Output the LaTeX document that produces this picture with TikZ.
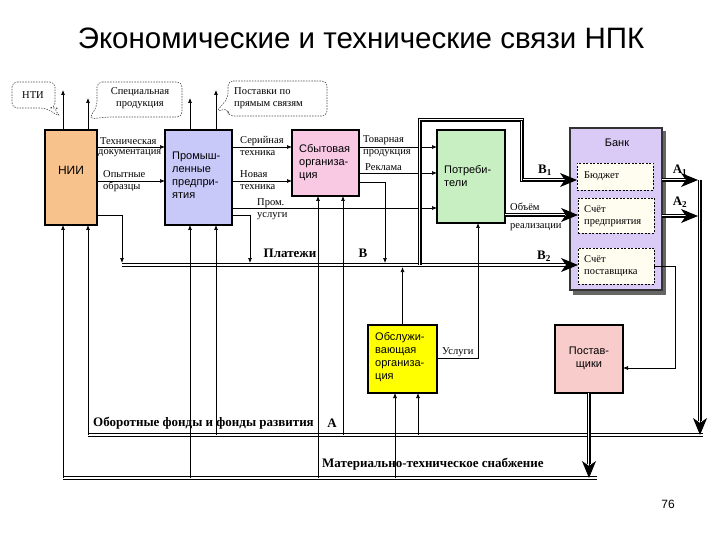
\documentclass[tikz,border=0pt]{standalone}
\usepackage{fontspec}
\setmainfont{Liberation Serif}
\newfontfamily\arial{Liberation Sans}
\usetikzlibrary{arrows.meta,calc}
\definecolor{niiC}{HTML}{F8C28C}
\definecolor{promC}{HTML}{C9C9F9}
\definecolor{sbytC}{HTML}{F9C9E4}
\definecolor{potrC}{HTML}{C8EFC2}
\definecolor{bankC}{HTML}{DACBF6}
\definecolor{servC}{HTML}{FFFF00}
\definecolor{suppC}{HTML}{F9CCCC}
\definecolor{innerC}{HTML}{FFFCF0}
\begin{document}
\begin{tikzpicture}[x=1pt,y=-1pt,
  box/.style={draw,line width=1.1pt,anchor=north west,inner sep=0pt,outer sep=0pt},
  boxtxt/.style={font=\arial\fontsize{11}{13}\selectfont,align=left,anchor=north west,inner sep=0pt},
  lab/.style={font=\fontsize{10.5}{12}\selectfont,inner sep=0pt},
  labw/.style={font=\fontsize{10.5}{12}\selectfont,inner sep=0pt,anchor=west},
  blab/.style={font=\bfseries\fontsize{13}{14}\selectfont,inner sep=0pt},
  arr/.style={line width=0.7pt,-{Latex[length=5pt,width=4pt]}},
  dbl/.style={double,double distance=1.6pt,line width=1.4pt},
  triple/.style={line width=4.2pt,postaction={draw=white,line width=2.4pt},postaction={draw=black,line width=0.9pt}},
  bigtip/.style={line width=1pt,-{Stealth[length=17pt,width=14pt,inset=5pt]}},
  callout/.style={draw=black!70,dash pattern=on 1.5pt off 1.2pt,line width=0.6pt,rounded corners=5pt,fill=white},
  dinner/.style={draw,dash pattern=on 2pt off 1.5pt,line width=0.8pt,fill=innerC,anchor=north west,inner sep=0pt,outer sep=0pt}
]
\useasboundingbox (0,0) rectangle (720,540);
\fill[white] (0,0) rectangle (720,540);

% title
\node (title) at (361,38) {\arial\fontsize{29.5}{34}\selectfont Экономические и технические связи НПК};
\node (pnum) at (668,504) {\arial\fontsize{12}{14}\selectfont 76};

% row / column coordinates
\coordinate (r1) at (0,147);
\coordinate (r2) at (0,181);
\coordinate (rP) at (0,208);
\coordinate (rR) at (0,173);
\coordinate (rS) at (0,182);
\coordinate (r215) at (0,215);
\coordinate (rB1) at (0,180);
\coordinate (rA2) at (0,216);
\coordinate (rTop) at (0,120);
\coordinate (rU) at (0,358);
\coordinate (rQ) at (0,368);
\coordinate (busP) at (0,265);
\coordinate (busPt) at (0,263);
\coordinate (busPb) at (0,267);
\coordinate (busO) at (0,435);
\coordinate (busM) at (0,478);
\coordinate (t90) at (0,90);
\coordinate (t98) at (0,98);
\coordinate (c63) at (63,0);
\coordinate (c88) at (88,0);
\coordinate (c122) at (122,0);
\coordinate (c190) at (190,0);
\coordinate (c216) at (216,0);
\coordinate (c250) at (250,0);
\coordinate (c318) at (318,0);
\coordinate (c343) at (343,0);
\coordinate (c385) at (385,0);
\coordinate (c395) at (395,0);
\coordinate (c418) at (418,0);
\coordinate (c420) at (420,0);
\coordinate (c478) at (478,0);
\coordinate (c522) at (522,0);
\coordinate (c675) at (675,0);
\coordinate (cA) at (700,0);

% callouts
\draw[callout] (12,82) -- (55,82) -- (55,108) -- (53,108) -- (61,117) -- (45,108) -- (12,108) -- cycle;
\node[lab] (nti) at (33,95) {НТИ};
\draw[callout] (97,82) -- (182,82) -- (182,117) -- (108,117) -- (89,119) -- (97,106) -- cycle;
\node[lab,align=center] (spec) at (140,98) {Специальная\\продукция};
\draw[callout] (228,81) -- (327,81) -- (327,116) -- (228,116) -- (228,108) -- (216,112) -- (228,98) -- cycle;
\node[lab,align=left,anchor=north west] (post) at (234,87) {Поставки по\\прямым связям};

% boxes
\node[box,fill=niiC,minimum width=52pt,minimum height=95pt] (nii) at (45,130) {};
\node[box,fill=promC,minimum width=67pt,minimum height=95pt] (prom) at (165,130) {};
\node[box,fill=sbytC,minimum width=67pt,minimum height=66pt] (sbyt) at (292,130) {};
\node[box,fill=potrC,minimum width=68pt,minimum height=93pt] (potr) at (437,130) {};
\fill[black!60] (573,131) rectangle (666,295);
\node[box,fill=bankC,draw=black!80,line width=1.6pt,minimum width=92pt,minimum height=162pt] (bank) at (570,128) {};
\node[dinner,minimum width=76pt,minimum height=27pt] (budget) at (577,163) {};
\node[dinner,minimum width=76pt,minimum height=35pt] (schet1) at (578,198) {};
\node[dinner,minimum width=76pt,minimum height=36pt] (schet2) at (578,248) {};
\node[box,fill=servC,minimum width=69pt,minimum height=68pt] (serv) at (368,325) {};
\node[box,fill=suppC,minimum width=68pt,minimum height=68pt] (supp) at (555,325) {};

% box texts
\node[font=\arial\fontsize{12}{14}\selectfont,inner sep=0pt] (niiT) at (71,170) {НИИ};
\node[boxtxt] (promT) at (172,152) {Промыш-\\ленные\\предпри-\\ятия};
\node[boxtxt] (sbytT) at (299,144) {Сбытовая\\организа-\\ция};
\node[boxtxt] (potrT) at (444,165) {Потреби-\\тели};
\node[boxtxt] (servT) at (375,332) {Обслужи-\\вающая\\организа-\\ция};
\node[font=\arial\fontsize{11}{13}\selectfont,align=center,inner sep=0pt] (suppT) at (589,358) {Постав-\\щики};
\node[font=\arial\fontsize{11}{13}\selectfont,inner sep=0pt] (bankT) at (617,143) {Банк};
\node[labw] (budT) at (584,176) {Бюджет};
\node[labw,align=left,font=\fontsize{10.5}{12.5}\selectfont] (s1T) at (584,216) {Счёт\\предприятия};
\node[labw,align=left,font=\fontsize{10.5}{12.5}\selectfont] (s2T) at (584,266) {Счёт\\поставщика};

% labels
\node[labw] (l1a) at (100,141) {Техническая};
\node[labw] (l1b) at (98,153) {документация};
\node[labw] (l2a) at (103,174) {Опытные};
\node[labw] (l2b) at (103,187) {образцы};
\node[labw] (l3a) at (240,141) {Серийная};
\node[labw] (l3b) at (240,153) {техника};
\node[labw] (l4a) at (240,174) {Новая};
\node[labw] (l4b) at (240,187) {техника};
\node[labw] (l5a) at (257,203) {Пром.};
\node[labw] (l5b) at (257,216) {услуги};
\node[labw] (l6a) at (363,140) {Товарная};
\node[labw] (l6b) at (363,153) {продукция};
\node[labw] (l7) at (365,167) {Реклама};
\node[labw] (l8a) at (510,207) {Объём};
\node[labw] (l8b) at (510,227) {реализации};
\node[labw] (l9) at (442,352) {Услуги};
\node[blab] (lB1) at (545,170) {В\textsubscript{1}};
\node[blab] (lA1) at (680,170) {А\textsubscript{1}};
\node[blab] (lA2) at (680,202) {А\textsubscript{2}};
\node[blab] (lB2) at (544,256) {В\textsubscript{2}};
\node[blab] (lpl) at (290,253) {Платежи};
\node[blab] (lB) at (363,253) {В};
\node[blab,anchor=west] (lof) at (93,423) {Оборотные фонды и фонды развития};
\node[blab] (lA) at (332,423) {А};
\node[blab,anchor=west] (lmts) at (322,464) {Материально-техническое снабжение};

% buses
\draw[dbl] (63,478) -- (597,478);
\draw[dbl] (88,435) -- (703,435);
\draw[dbl] (122,265) -- (566,265);
\draw[bigtip] (566,265) -- (schet2.west |- busP);

% thin arrows between boxes
\draw[arr] (nii.east |- r1) -- (prom.west |- r1);
\draw[arr] (nii.east |- r2) -- (prom.west |- r2);
\draw[arr] (prom.east |- r1) -- (sbyt.west |- r1);
\draw[arr] (prom.east |- r2) -- (sbyt.west |- r2);
\draw[arr] (prom.east |- rP) -- (potr.west |- rP);
\draw[arr] (sbyt.east |- r1) -- (potr.west |- r1);
\draw[arr] (sbyt.east |- rR) -- (potr.west |- rR);
\draw[arr] (sbyt.east |- rS) -| (c385 |- busPt);
\draw[arr] (nii.east |- r215) -| (c122 |- busPt);
\draw[arr] (prom.east |- r215) -| (c250 |- busPt);
\draw[arr] (serv.north) -- (serv.north |- busPb);
\draw[arr] (serv.east |- rU) -| (c478 |- potr.south);
\draw[arr] (schet2.east) -| (c675 |- rQ) -- (supp.east |- rQ);

% up arrows from buses
\draw[arr] (c63 |- busM) -- (c63 |- nii.south);
\draw[arr] (c88 |- busO) -- (c88 |- nii.south);
\draw[arr] (c190 |- busM) -- (c190 |- prom.south);
\draw[arr] (c216 |- busO) -- (c216 |- prom.south);
\draw[arr] (c318 |- busM) -- (c318 |- sbyt.south);
\draw[arr] (c343 |- busO) -- (c343 |- sbyt.south);
\draw[arr] (c395 |- busM) -- (c395 |- serv.south);
\draw[arr] (c418 |- busO) -- (c418 |- serv.south);

% top arrows to callouts
\draw[arr] (c63 |- nii.north) -- (c63 |- t90);
\draw[arr] (c88 |- nii.north) -- (c88 |- t98);
\draw[arr] (c190 |- prom.north) -- (c190 |- t98);
\draw[arr] (c216 |- prom.north) -- (c216 |- t90);

% triple lines with big arrows
\draw[triple] (c420 |- busP) -- (c420 |- rTop) -- (c522 |- rTop) -- (c522 |- rB1) -- (565,180);
\draw[bigtip] (565,180) -- (budget.west |- rB1);
\draw[triple] (potr.east |- r215) -- (565,215);
\draw[bigtip] (565,215) -- (schet1.west |- r215);
\draw[triple] (bank.east |- rB1) -- (686,180);
\draw[bigtip] (686,180) -- (698,180);
\draw[triple] (bank.east |- rA2) -- (686,216);
\draw[bigtip] (686,216) -- (698,216);
\draw[triple] (cA |- rB1) -- (700,421);
\draw[bigtip] (700,421) -- (cA |- busO);
\draw[triple] (supp.south) -- (589,464);
\draw[bigtip] (589,464) -- (supp.south |- busM);
\end{tikzpicture}
\end{document}
